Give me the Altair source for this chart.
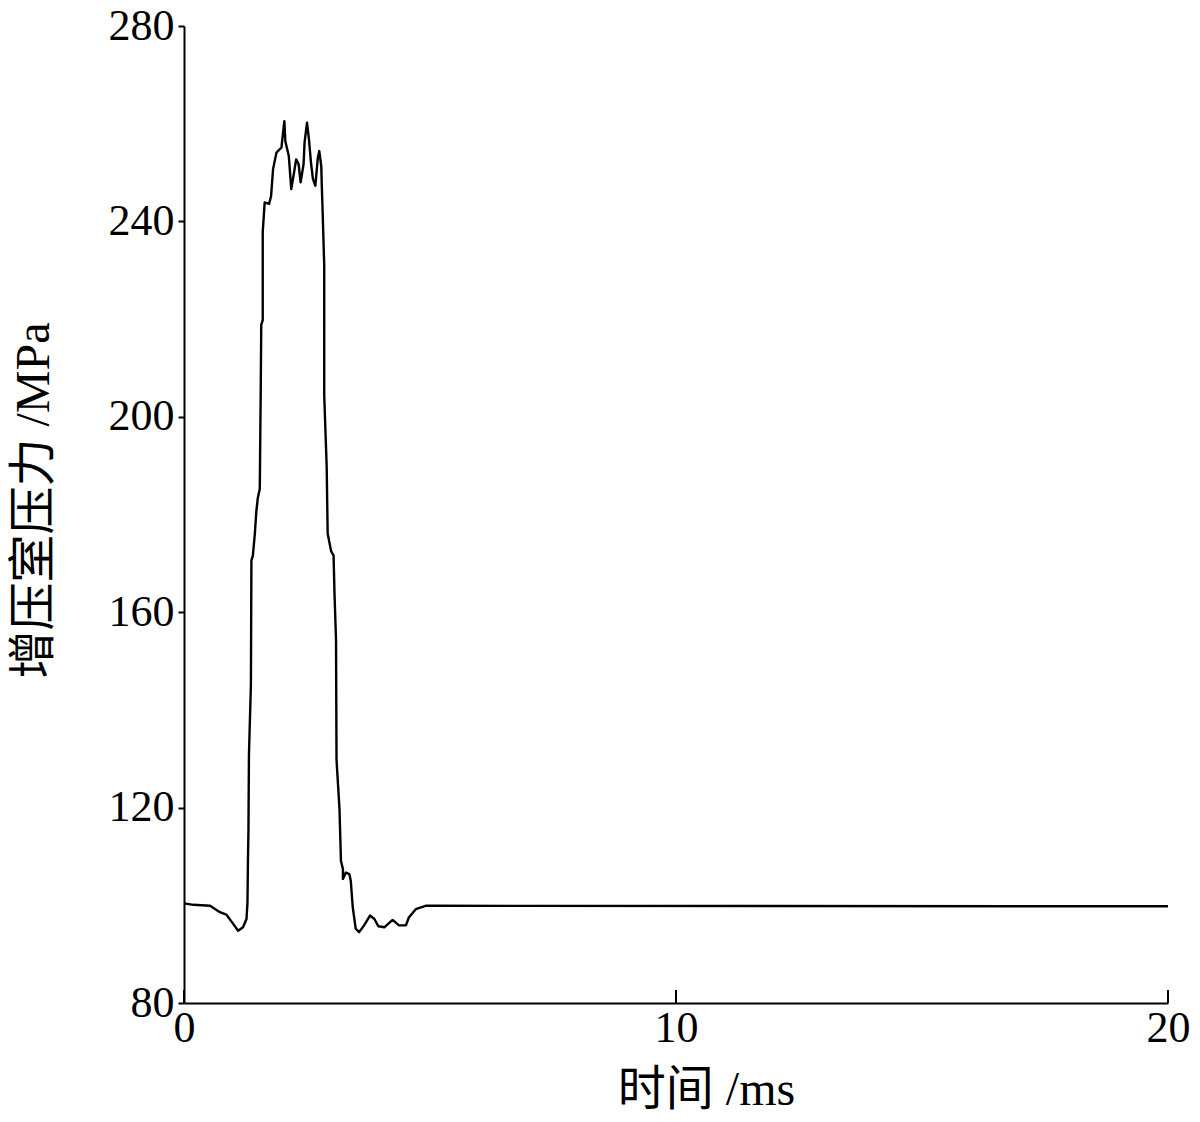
import altair as alt
import pandas as pd

# time (ms) and booster-chamber pressure (MPa)
time_ms = [0.00, 0.19, 0.53, 0.73, 0.86, 1.00, 1.10, 1.20, 1.27, 1.29, 1.30, 1.31,
           1.32, 1.36, 1.37, 1.40, 1.44, 1.47, 1.50, 1.54, 1.56, 1.57, 1.60, 1.60,
           1.64, 1.73, 1.77, 1.81, 1.88, 1.98, 2.04, 2.06, 2.13, 2.18, 2.23, 2.28,
           2.33, 2.37, 2.43, 2.45, 2.50, 2.54, 2.58, 2.62, 2.67, 2.72, 2.75, 2.79,
           2.80, 2.82, 2.85, 2.85, 2.90, 2.92, 2.99, 3.04, 3.06, 3.09, 3.10, 3.16,
           3.19, 3.23, 3.23, 3.29, 3.36, 3.39, 3.43, 3.49, 3.56, 3.66, 3.78, 3.87,
           3.95, 4.07, 4.24, 4.37, 4.51, 4.57, 4.71, 4.91, 5.18, 20.0]
pressure = [100.4, 100.1, 99.9, 98.6, 98.1, 96.2, 94.8, 95.5, 97.2, 100.5, 109.0, 115.4,
            130.8, 145.2, 170.6, 171.6, 176.1, 180.6, 183.4, 185.2, 206.0, 218.8, 219.8, 237.8,
            243.9, 243.6, 245.2, 250.7, 254.1, 255.1, 260.5, 256.4, 253.4, 246.6, 249.6, 252.7,
            251.7, 248.0, 251.7, 256.1, 260.2, 256.8, 252.1, 248.7, 247.3, 253.0, 254.4, 251.3,
            247.6, 241.2, 231.0, 204.4, 189.8, 176.1, 172.5, 171.6, 163.4, 154.3, 129.8, 119.8,
            109.1, 107.4, 105.4, 106.7, 106.4, 105.0, 99.6, 95.2, 94.5, 95.9, 97.9, 97.2,
            95.7, 95.5, 97.0, 95.9, 95.9, 97.5, 99.2, 99.9, 99.9, 99.8]

x_ticks = [0, 10, 20]
y_ticks = [80, 120, 160, 200, 240, 280]

df = pd.DataFrame({"t": time_ms, "p": pressure, "i": list(range(len(time_ms)))})
tick_df = pd.DataFrame({"t": x_ticks})

FONT = "Liberation Serif, Times New Roman, Noto Sans CJK SC"
W, H = 984, 977

xscale = alt.Scale(domain=[0, 20], nice=False)
yscale = alt.Scale(domain=[80, 280], nice=False)

line = alt.Chart(df).mark_line(color="black", strokeWidth=2.4, strokeJoin="round").encode(
    x=alt.X("t:Q", scale=xscale,
            axis=alt.Axis(title="时间 /ms", values=x_ticks, ticks=False, grid=False,
                          labelFont=FONT, labelFontSize=44, labelColor="black",
                          labelPadding=3, labelFlush=False,
                          domainColor="black", domainWidth=2,
                          titleFont=FONT, titleFontSize=48, titleFontWeight="normal",
                          titleColor="black", titleX=522, titleY=87,
                          titleBaseline="middle", titleAlign="center")),
    y=alt.Y("p:Q", scale=yscale,
            axis=alt.Axis(title="增压室压力 /MPa", values=y_ticks, ticks=True, tickSize=6,
                          tickColor="black", tickWidth=2, grid=False,
                          labelFont=FONT, labelFontSize=44, labelColor="black",
                          labelPadding=4, labelFlush=False,
                          domainColor="black", domainWidth=2,
                          titleFont=FONT, titleFontSize=48, titleFontWeight="normal",
                          titleColor="black", titleAngle=270, titleX=-150, titleY=474,
                          titleBaseline="middle", titleAlign="center")),
    order="i:O",
)

ticks = alt.Chart(tick_df).mark_rule(color="black", strokeWidth=2).encode(
    x=alt.X("t:Q", scale=xscale),
    y=alt.value(H - 13),
    y2=alt.value(H),
)

chart = alt.layer(line, ticks).properties(
    width=W, height=H,
    background="white",
    autosize=alt.AutoSizeParams(type="none"),
    padding={"left": 176, "top": 18, "right": 24, "bottom": 110},
).configure_view(strokeWidth=0, stroke="transparent")

chart.save("out.html", embed_options={"renderer": "svg", "actions": False})
